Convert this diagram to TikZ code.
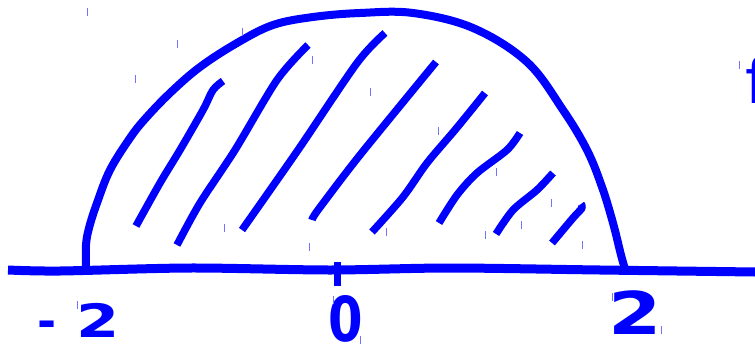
\documentclass[tikz,border=0pt]{standalone}
\usepackage{graphicx}
\usepackage{fontspec}
\setmainfont{DejaVu Sans}
\begin{document}
\begin{tikzpicture}[x=1pt,y=-1pt,
  ink/.style={draw=blue, line width=8pt, line join=round},
  hatch/.style={draw=blue, line width=7.5pt, line join=round},
  speck/.style={draw=blue!55, line width=0.9pt},
  lbl/.style={text=blue, inner sep=0pt, font=\bfseries}]
\useasboundingbox (0,0) rectangle (755,348);
% axis
\draw[ink, line width=9pt] plot[smooth, tension=0.5] coordinates {(8,270) (60,271) (190,268) (330,270) (450,268) (600,270) (755,272)};
\draw[ink, line width=7pt] (337,262) -- (337,286);
% arc
\draw[ink] plot[smooth, tension=0.6] coordinates {(86,266) (86,245) (89,228) (97,203) (110,170) (130,138) (145,119) (170,93) (200,67) (237,43) (273,25) (313,17) (360,13) (413,13) (473,28) (527,62) (563,110) (587,150) (602,187) (613,223) (621,255) (625,269)};
% hatching
\draw[hatch] plot[smooth, tension=0.5] coordinates {(136,226) (160,183) (180,150) (203,110) (213,90) (223,81)};
\draw[hatch] plot[smooth, tension=0.5] coordinates {(177,245) (200,203) (235,150) (277,80) (308,45)};
\draw[hatch] plot[smooth, tension=0.5] coordinates {(242,230) (298,150) (357,63) (385,33)};
\draw[hatch] plot[smooth, tension=0.5] coordinates {(312,220) (318,210) (360,155) (436,62)};
\draw[hatch] plot[smooth, tension=0.5] coordinates {(372,232) (403,197) (427,163) (455,130) (477,103) (485,93)};
\draw[hatch] plot[smooth, tension=0.5] coordinates {(439,223) (457,195) (477,173) (507,150) (520,133)};
\draw[hatch] plot[smooth, tension=0.5] coordinates {(496,234) (513,210) (537,190) (553,173)};
\draw[hatch] plot[smooth, tension=0.5] coordinates {(552,243) (573,218) (582,208) (581,204)};
% labels
\node[lbl, font=\bfseries\fontsize{46}{46}\selectfont] (lm) at (79,320) {-\hspace{20pt}\scalebox{1.35}[1]{2}};
\node[lbl, font=\bfseries\fontsize{62}{62}\selectfont, xscale=0.8] (l0) at (346,319) {0};
\node[lbl, font=\bfseries\fontsize{59}{59}\selectfont, xscale=1.3] (l2) at (635,313) {2};
\begin{scope}
\clip (0,0) rectangle (755,348);
\node[text=blue, inner sep=0pt, font=\fontsize{62}{62}\selectfont, anchor=base west] (lf) at (745,103) {f};
\end{scope}
% specks
\foreach \p in {(87,12),(135,79),(177,44),(242,32),(312,60),(224,228),(309,247),(370,92),(438,131),(496,172),(551,203),(386,232),(485,235),(521,225),(582,245),(77,305),(333,300),(360,340),(612,297),(661,330),(739,65)}
  \draw[speck] \p ++(0,-4) -- ++(0,8);
\end{tikzpicture}
\end{document}
